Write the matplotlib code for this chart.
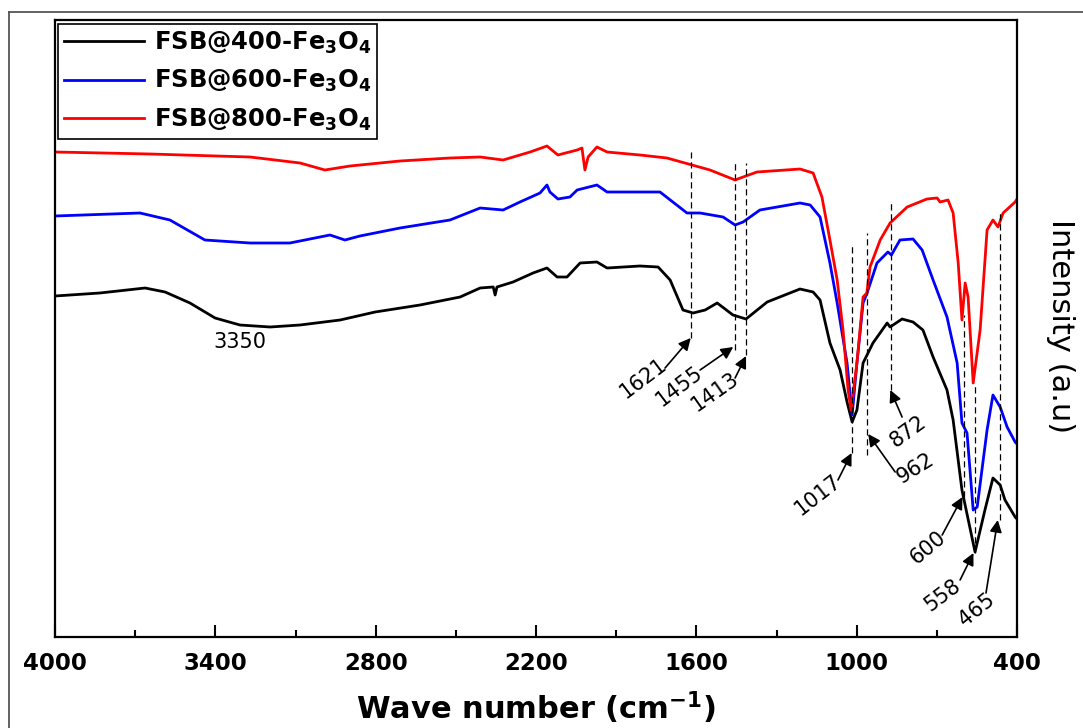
import matplotlib
matplotlib.use("Agg")
import matplotlib.pyplot as plt
from matplotlib.lines import Line2D

plt.rcParams['font.family'] = ['DejaVu Sans']
plt.rcParams['mathtext.fontset'] = 'dejavusans'

# FTIR spectra (wavenumber in cm-1, intensity in a.u.)
wn_400 = [4000, 3832, 3663, 3588, 3495, 3401, 3308, 3195, 3083, 2933, 2802, 2634,
          2484, 2409, 2360, 2353, 2346, 2286, 2211, 2159, 2121, 2084, 2035, 1972,
          1934, 1811, 1743, 1698, 1650, 1612, 1567, 1522, 1463, 1414, 1335, 1212,
          1163, 1137, 1100, 1062, 1036, 1017, 999, 976, 939, 886, 875, 830, 789,
          752, 714, 662, 639, 606, 557, 520, 490, 463, 445, 407, 400]
int_400 = [341, 344, 349, 345, 334, 319, 312, 310, 312, 317, 325, 332,
           340, 349, 350, 342, 350, 355, 364, 369, 360, 360, 374, 375,
           369, 371, 370, 357, 327, 324, 327, 334, 322, 318, 335, 348,
           345, 337, 294, 267, 235, 215, 227, 274, 294, 314, 310, 318, 315,
           307, 280, 247, 217, 147, 85, 127, 159, 152, 137, 120, 118]

wn_600 = [4000, 3682, 3570, 3439, 3270, 3121, 2971, 2915, 2859, 2709, 2522, 2409,
          2323, 2260, 2185, 2159, 2148, 2118, 2073, 2046, 1972, 1934, 1811, 1736,
          1635, 1586, 1500, 1455, 1425, 1362, 1212, 1174, 1137, 1100, 1073, 1036,
          1017, 999, 976, 961, 924, 883, 870, 838, 789, 755, 714, 662, 624, 606,
          587, 564, 549, 512, 490, 463, 437, 407, 400]
int_600 = [421, 424, 417, 397, 394, 394, 402, 397, 401, 409, 417, 429,
           427, 435, 444, 452, 445, 438, 440, 447, 452, 445, 445, 445,
           424, 424, 420, 412, 415, 427, 434, 432, 420, 374, 334, 274,
           222, 274, 334, 344, 374, 385, 382, 397, 398, 387, 357, 320, 274, 214,
           204, 127, 130, 207, 242, 230, 210, 195, 193]

wn_800 = [4000, 3644, 3270, 3083, 2990, 2896, 2709, 2522, 2409, 2323, 2222, 2159,
          2118, 2046, 2028, 2017, 2005, 1972, 1934, 1811, 1710, 1616, 1549, 1455,
          1425, 1373, 1212, 1163, 1130, 1100, 1073, 1051, 1032, 1021, 999, 976,
          962, 950, 912, 875, 811, 737, 699, 688, 658, 639, 620, 606, 594, 583,
          564, 538, 512, 490, 471, 452, 407, 400]
int_800 = [485, 483, 480, 474, 467, 471, 476, 479, 480, 477, 485, 491,
           482, 487, 489, 467, 480, 490, 485, 482, 479, 472, 467, 457,
           460, 465, 468, 464, 440, 397, 357, 307, 247, 227, 274, 340,
           344, 370, 397, 414, 430, 438, 439, 435, 437, 424, 374, 317, 354, 340,
           254, 307, 407, 417, 410, 424, 435, 438]

labels = [r'FSB@400-Fe$_{\mathbf{3}}$O$_{\mathbf{4}}$',
          r'FSB@600-Fe$_{\mathbf{3}}$O$_{\mathbf{4}}$',
          r'FSB@800-Fe$_{\mathbf{3}}$O$_{\mathbf{4}}$']
colors = ['black', 'blue', 'red']

# marked bands: position, dashed line from/to
peaks = [1621, 1455, 1413, 1017, 962, 872, 600, 558, 465]
dash_lo = [299, 287, 282, 184, 182, 247, 140, 84, 117]
dash_hi = [485, 477, 474, 394, 404, 434, 322, 252, 424]

# peak labels: text position, arrow tail, arrow tip, angle
peak_text = ['1621', '1455', '1413', '1017', '962', '872', '600', '558', '465']
text_xy = [(1799, 259), (1665, 251), (1530, 245), (1144, 142), (781, 169),
           (808, 205), (733, 89), (677, 42), (549, 27)]
tail_xy = [(1717, 269), (1586, 267), (1455, 259), (1070, 157), (856, 165),
           (830, 220), (680, 102), (613, 57), (516, 44)]
tip_xy = [(1621, 299), (1462, 290), (1414, 281), (1019, 184), (957, 203),
          (874, 247), (604, 140), (563, 84), (472, 117)]
angles = [37, 37, 35, 38, 32, 36, 40, 37, 39]

fig = plt.figure(figsize=(10.83, 7.28), dpi=100)
ax = fig.add_axes([55 / 1083, 91 / 728, 962 / 1083, 617 / 728])

ax.plot(wn_400, int_400, color=colors[0], lw=2.0, label=labels[0])
ax.plot(wn_600, int_600, color=colors[1], lw=2.0, label=labels[1])
ax.plot(wn_800, int_800, color=colors[2], lw=2.0, label=labels[2])

ax.vlines(peaks, dash_lo, dash_hi, colors='black', linestyles=(0, (5, 3)), lw=0.9)

for t, txy, a, b, ang in zip(peak_text, text_xy, tail_xy, tip_xy, angles):
    ax.annotate('', xy=b, xytext=a,
                arrowprops=dict(arrowstyle='-|>', color='black', lw=1.2,
                                mutation_scale=18, shrinkA=0, shrinkB=0))
    ax.text(txy[0], txy[1], t, rotation=ang, fontsize=15, ha='center', va='center',
            rotation_mode='anchor')
ax.text(3308, 295, '3350', fontsize=15, ha='center', va='center')

ax.set_xlim(4000, 400)
ax.set_ylim(0, 617)
ax.set_xticks([4000, 3400, 2800, 2200, 1600, 1000, 400])
ax.set_xticks([3700, 3100, 2500, 1900, 1300, 700], minor=True)
ax.set_yticks([])
ax.tick_params(axis='x', which='major', direction='in', length=9, width=1.5,
               labelsize=16.5, pad=11)
ax.tick_params(axis='x', which='minor', direction='in', length=5, width=1.5)
for lab in ax.get_xticklabels():
    lab.set_fontweight('bold')
for s in ax.spines.values():
    s.set_linewidth(1.6)

ax.set_xlabel(r'Wave number (cm$^{\mathbf{-1}}$)', fontsize=22, fontweight='bold',
              labelpad=10)
fig.text(1060 / 1083, 1 - 326 / 728, 'Intensity (a.u)', rotation=270, fontsize=22,
         ha='center', va='center')

leg = ax.legend(loc='upper left', bbox_to_anchor=(0.003, 0.994), borderaxespad=0,
                prop={'size': 17.5, 'weight': 'bold'}, handlelength=3.3,
                labelspacing=0.5, fancybox=False, framealpha=1, borderpad=0.25,
                handletextpad=0.4)
leg.get_frame().set_edgecolor('black')
leg.get_frame().set_linewidth(1.2)

# thin outer frame (left and top edges)
fig.add_artist(Line2D([9 / 1083, 9 / 1083], [0, 1 - 12 / 728], color='#555555', lw=1.3))
fig.add_artist(Line2D([9 / 1083, 1], [1 - 12 / 728, 1 - 12 / 728], color='#555555', lw=1.3))

fig.savefig('out.png', dpi=100)
